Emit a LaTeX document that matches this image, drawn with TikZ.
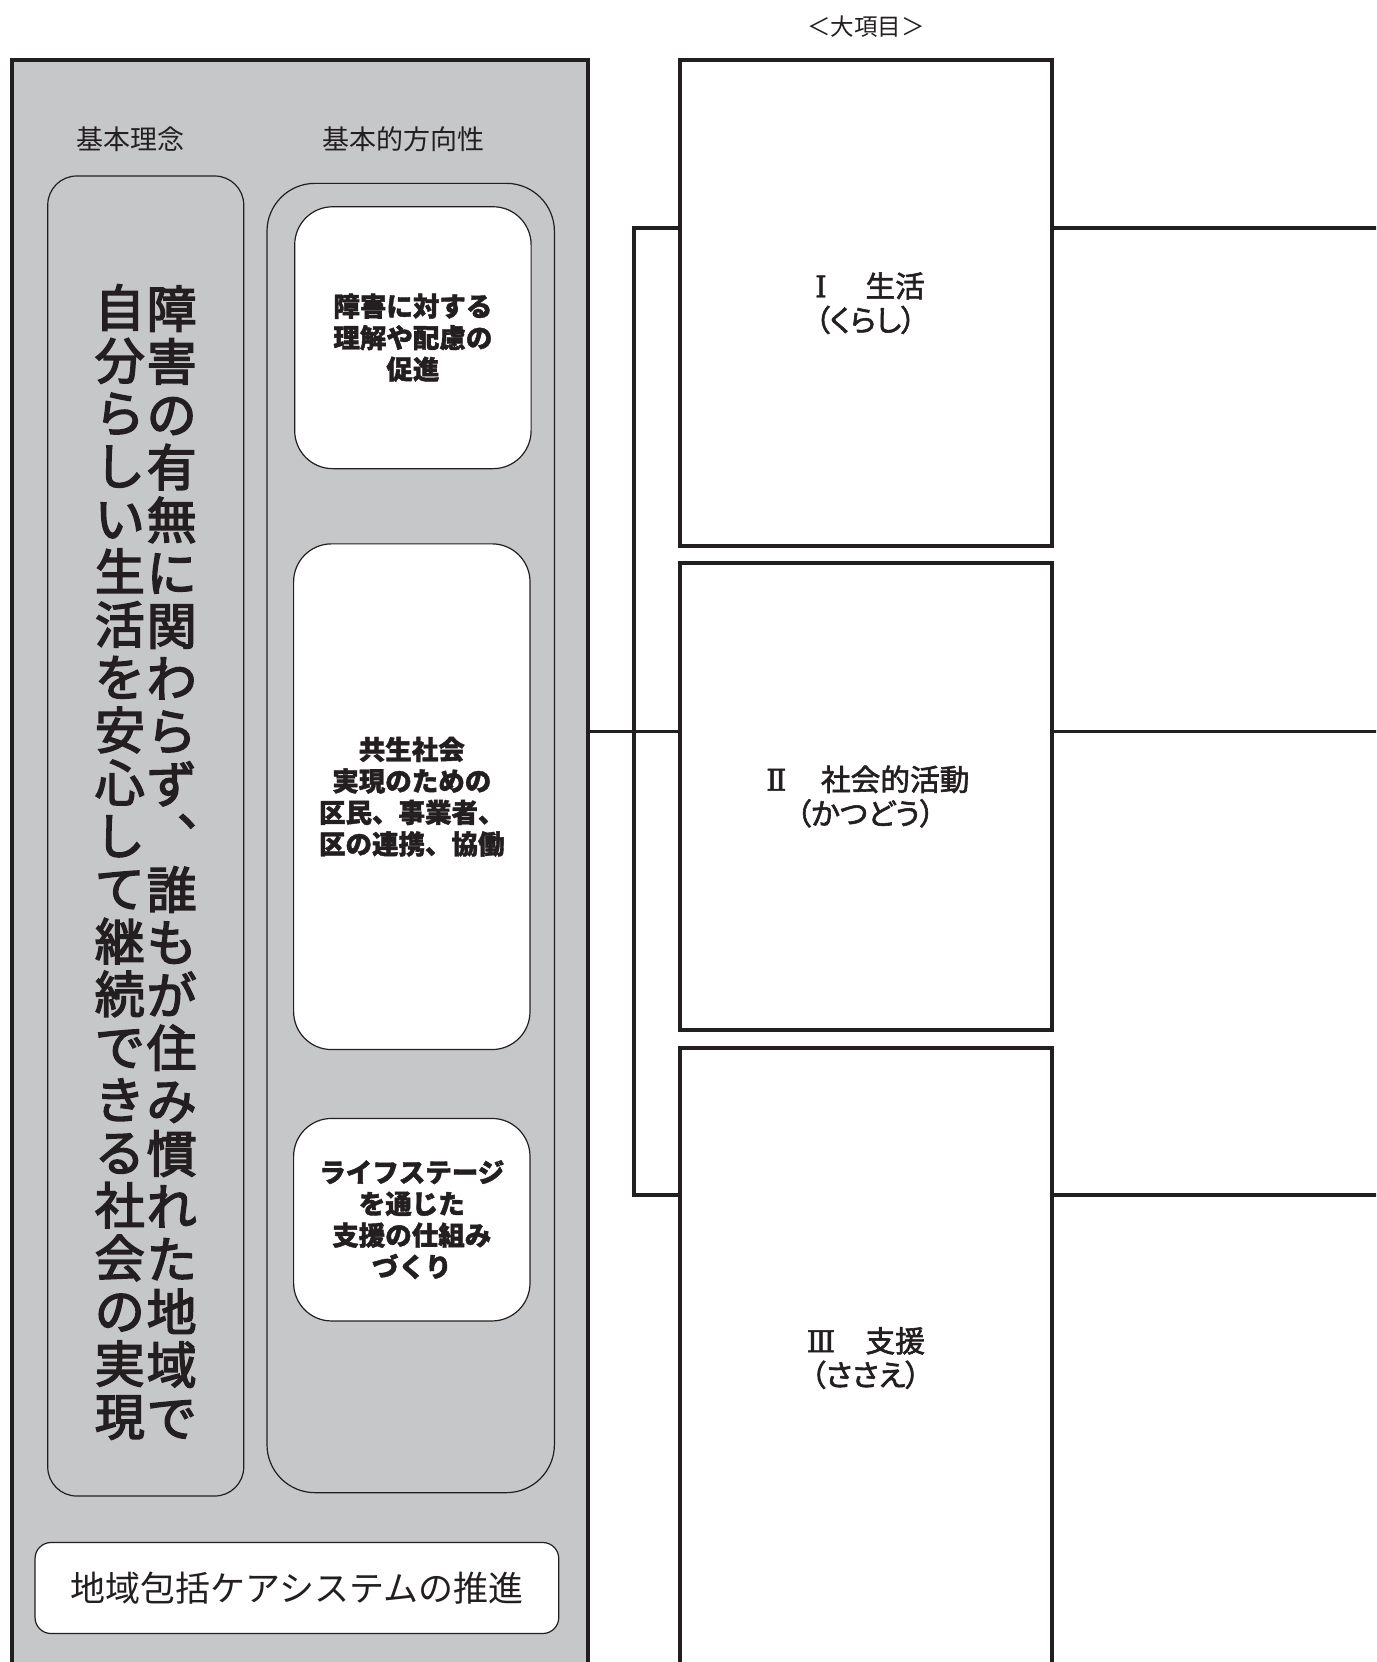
\documentclass[tikz,border=0pt]{standalone}
\usepackage{fontspec}
\setmainfont{Noto Sans CJK JP}
\newfontfamily\paltfont[RawFeature=+palt, FakeBold=2]{Noto Sans CJK JP}
\newfontfamily\medfont[FakeBold=2]{Noto Sans CJK JP}
\newfontfamily\vertfont[FakeBold=3]{Noto Sans CJK JP}
\newfontfamily\heavyfont[BoldFeatures={FakeBold=1.5}]{Noto Sans CJK JP}
\newfontfamily\numfont[FakeBold=1.5]{DejaVu Serif}
\newcommand{\romnum}[1]{\makebox[1em]{\numfont #1}}
\definecolor{panelgray}{RGB}{198,199,201}
\definecolor{ink}{RGB}{35,31,32}
\tikzset{
  bigbox/.style={draw=ink, line width=4pt, fill=white, inner sep=0pt, align=center,
    text=ink, font=\medfont\fontsize{29.7}{34}\selectfont},
  outerbox/.style={draw=ink, line width=4pt, fill=panelgray, inner sep=0pt},
  conn/.style={draw=ink, line width=3.6pt},
  graybox/.style={draw=ink, line width=1.2pt, fill=panelgray, inner sep=0pt},
  whitebox/.style={draw=ink, line width=1.2pt, fill=white, inner sep=0pt, align=center,
    text=ink, rounded corners=38pt, font=\heavyfont\bfseries\fontsize{26.5}{31.5}\selectfont},
  plainlbl/.style={inner sep=0pt, text=ink, font=\fontsize{27}{30}\selectfont},
  vcol/.style={inner sep=0pt, align=center, text=ink, font=\vertfont\fontsize{50}{52.8}\selectfont}
}
\begin{document}
\begin{tikzpicture}[x=1pt,y=-1pt]
\useasboundingbox (0,0) rectangle (1376,1662);
\clip (0,0) rectangle (1376,1662);

% left panel
\node[outerbox, minimum width=576.7pt, minimum height=1640pt] (outer) at (300,880) {};
\node[plainlbl] (lblA) at (130,139) {基本理念};
\node[plainlbl] (lblB) at (403,139) {基本的方向性};
\node[graybox, rounded corners=29pt, minimum width=196pt, minimum height=1320pt] (ideaBox) at (145.75,836) {};
\node[vcol] (vcolR) at (171.7,862) {障\\害\\の\\有\\無\\に\\関\\わ\\ら\\ず\\︑\\誰\\も\\が\\住\\み\\慣\\れ\\た\\地\\域\\で};
\node[vcol] (vcolL) at (119.8,862) {自\\分\\ら\\し\\い\\生\\活\\を\\安\\心\\し\\て\\継\\続\\で\\き\\る\\社\\会\\の\\実\\現};
\node[graybox, rounded corners=48pt, minimum width=287.4pt, minimum height=1309.3pt] (dirBox) at (410.7,838) {};
\node[whitebox, minimum width=236.4pt, minimum height=261.9pt] (dir1) at (412.9,337.7) {障害に対する\\理解や配慮の\\促進};
\node[whitebox, minimum width=236.4pt, minimum height=505.7pt] (dir2) at (411.8,796.7) {共生社会\\実現のための\\区民、事業者、\\区の連携、協働};
\node[whitebox, minimum width=236.4pt, minimum height=202.5pt] (dir3) at (411.8,1219.7) {ライフステージ\\を通じた\\支援の仕組み\\づくり};
\node[whitebox, rounded corners=16pt, minimum width=523.7pt, minimum height=91pt,
  font=\fontsize{35}{37}\selectfont] (care) at (296.9,1588) {地域包括ケアシステムの推進};

% right column
\node[plainlbl, font=\fontsize{23.5}{26}\selectfont] (hdr) at (866,27) {＜大項目＞};
\node[bigbox, minimum width=372pt, minimum height=485.6pt] (boxI) at (865.5,303.2) {\romnum{Ⅰ}　生活\\{\paltfont （くらし）}};
\node[bigbox, minimum width=372pt, minimum height=467pt] (boxII) at (865.5,796.5) {\romnum{Ⅱ}　社会的活動\\{\paltfont （かつどう）}};
\node[bigbox, minimum width=372pt, minimum height=619.5pt] (boxIII) at (865.5,1358) {\romnum{Ⅲ}　支援\\{\paltfont （ささえ）}};

% connectors
\coordinate (jTop) at (634,228);
\coordinate (jMid) at (634,731.5);
\coordinate (jBot) at (634,1195);
\coordinate (rI) at (1380,228);
\coordinate (rII) at (1380,731.5);
\coordinate (rIII) at (1380,1195);
\draw[conn] (boxI.west |- jTop) -- (jTop) -- (jBot) -- (boxIII.west |- jBot);
\draw[conn] (outer.east |- jMid) -- (boxII.west |- jMid);
\draw[conn] (boxI.east |- rI) -- (rI);
\draw[conn] (boxII.east |- rII) -- (rII);
\draw[conn] (boxIII.east |- rIII) -- (rIII);
\end{tikzpicture}
\end{document}
